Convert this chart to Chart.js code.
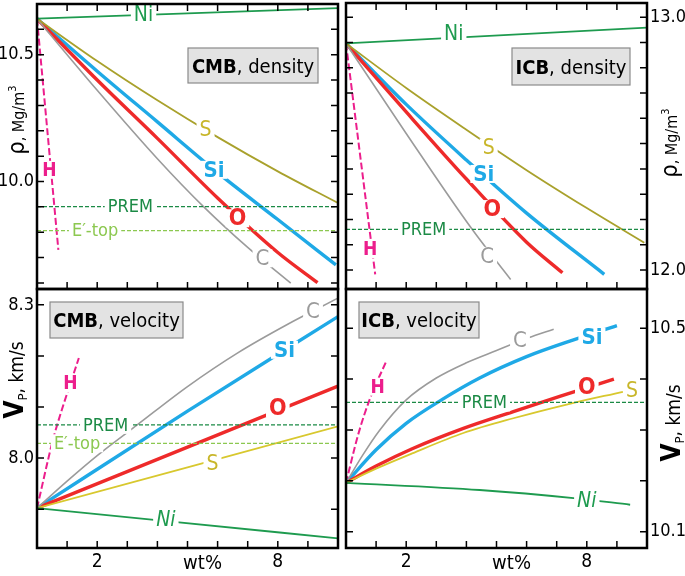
<!DOCTYPE html>
<html>
<head>
<meta charset="utf-8">
<script src="https://cdn.jsdelivr.net/npm/chart.js@4.4.0/dist/chart.umd.min.js"></script>
<style>
body { margin: 0; background: #fff; }
#wrap { position: relative; width: 685px; height: 576px; overflow: hidden; background: #fff; }
canvas { position: absolute; }
</style>
</head>
<body>
<div id="wrap">
<canvas id="tl" width="342" height="292" style="left:0;top:0"></canvas>
<canvas id="tr" width="343" height="292" style="left:342px;top:0"></canvas>
<canvas id="bl" width="342" height="290" style="left:0;top:286px"></canvas>
<canvas id="br" width="343" height="290" style="left:342px;top:286px"></canvas>
</div>
<script>
// x axis: wt% of light element, labels only at 2 and 8
var xLabelTicks = [2, 8];

// ---- CMB, density (Mg/m3)
var cmbRhoLabels = [10.0, 10.5];
var cmbRhoNiX = [0, 10],                        cmbRhoNiY = [10.642, 10.684];
var cmbRhoSX  = [0, 2, 4, 6, 8, 10],            cmbRhoSY  = [10.642, 10.475, 10.32, 10.175, 10.04, 9.915];
var cmbRhoSiX = [0, 2, 4, 6, 8, 9.93],          cmbRhoSiY = [10.642, 10.435, 10.235, 10.035, 9.85, 9.671];
var cmbRhoOX  = [0, 2, 4, 6, 8, 9.32],          cmbRhoOY  = [10.642, 10.40, 10.17, 9.935, 9.72, 9.601];
var cmbRhoCX  = [0, 2, 4, 5.54, 7, 8.43],       cmbRhoCY  = [10.642, 10.36, 10.09, 9.90, 9.74, 9.599];
var cmbRhoHX  = [0, 0.71],                      cmbRhoHY  = [10.642, 9.730];
var cmbRhoPrem = 9.901, cmbRhoEtop = 9.806;

// ---- ICB, density (Mg/m3)
var icbRhoLabels = [12.0, 13.0];
var icbRhoNiX = [0, 10],                        icbRhoNiY = [12.896, 12.959];
var icbRhoSX  = [0, 2, 4, 6, 8, 9.91],          icbRhoSY  = [12.896, 12.72, 12.555, 12.395, 12.245, 12.108];
var icbRhoSiX = [0, 2, 4, 6, 8.58],             icbRhoSiY = [12.896, 12.655, 12.435, 12.225, 11.983];
var icbRhoOX  = [0, 2, 4, 6, 7.19],             icbRhoOY  = [12.896, 12.625, 12.36, 12.11, 11.989];
var icbRhoCX  = [0, 2, 4.19, 5.47],             icbRhoCY  = [12.896, 12.54, 12.161, 11.963];
var icbRhoHX  = [0, 0.97],                      icbRhoHY  = [12.896, 11.983];
var icbRhoPrem = 12.161;

// ---- CMB, velocity Vp (km/s)
var cmbVpLabels = [8.0, 8.3];
var cmbVpNiX = [0, 4.22, 10],                   cmbVpNiY = [7.902, 7.877, 7.843];
var cmbVpSX  = [0, 10],                         cmbVpSY  = [7.902, 8.062];
var cmbVpOX  = [0, 10],                         cmbVpOY  = [7.902, 8.141];
var cmbVpSiX = [0, 5, 10],                      cmbVpSiY = [7.902, 8.092, 8.277];
var cmbVpCX  = [0, 1, 2, 3.33, 5, 6.67, 8.33, 10], cmbVpCY = [7.902, 7.955, 8.005, 8.065, 8.140, 8.206, 8.262, 8.313];
var cmbVpHX  = [0, 0.5, 0.67, 1.39],            cmbVpHY  = [7.902, 8.029, 8.065, 8.196];
var cmbVpPrem = 8.065, cmbVpEtop = 8.029;

// ---- ICB, velocity Vp (km/s)
var icbVpLabels = [10.1, 10.5];
var icbVpNiX = [0, 4.44, 7.56, 9.44],           icbVpNiY = [10.196, 10.182, 10.166, 10.153];
var icbVpSX  = [0, 1, 2.2, 3.9, 5.56, 7.33, 9.2], icbVpSY = [10.196, 10.224, 10.254, 10.294, 10.323, 10.35, 10.375];
var icbVpOX  = [0, 1, 2.2, 3.9, 5.56, 7.1, 8.9],  icbVpOY = [10.196, 10.229, 10.263, 10.303, 10.336, 10.366, 10.400];
var icbVpSiX = [0, 1, 2, 3.2, 4.44, 6, 7.56, 9], icbVpSiY = [10.196, 10.261, 10.313, 10.36, 10.402, 10.444, 10.477, 10.505];
var icbVpCX  = [0, 0.55, 1.1, 2, 3, 4, 5, 6.06, 6.9], icbVpCY = [10.196, 10.250, 10.298, 10.359, 10.402, 10.432, 10.456, 10.481, 10.498];
var icbVpHX  = [0, 0.4, 0.8, 1.33],             icbVpHY  = [10.196, 10.29, 10.362, 10.434];
var icbVpPrem = 10.354;

var FONT = '"DejaVu Sans Condensed", "DejaVu Sans", sans-serif';
var COL = {
	Ni: '#1e9b4f', S: '#a9a12c', S2: '#d8c82e', Slab: '#c8b62a', Si: '#1fa9e6', O: '#ee2a2a',
	C: '#9b9b9b', H: '#ec1e8c', PREM: '#1b8a45', Etop: '#8cc850'
};

// label text styles
var LS = {
	Ni:   { color: COL.Ni,   font: '21px ' + FONT },
	Nii:  { color: COL.Ni,   font: 'italic 21px ' + FONT },
	S:    { color: COL.Slab, font: '21px ' + FONT },
	Si:   { color: COL.Si,   font: 'bold 22px ' + FONT },
	O:    { color: COL.O,    font: 'bold 23px ' + FONT },
	C:    { color: COL.C,    font: '22px ' + FONT },
	H:    { color: COL.H,    font: 'bold 19px ' + FONT },
	PREM: { color: COL.PREM, font: '18px ' + FONT },
	Etop: { color: COL.Etop, font: '18px ' + FONT }
};

function xy(xs, ys) { return xs.map(function(x, i) { return { x: x, y: ys[i] }; }); }
function flat(v) { return [{ x: 0, y: v }, { x: 10, y: v }]; }
function ds(pts, color, width, dash) {
	return {
		data: pts, borderColor: color, borderWidth: width, borderDash: dash || [],
		pointRadius: 0, fill: false, cubicInterpolationMode: 'monotone'
	};
}

function overlay(p) {
	return {
		id: 'overlay',
		afterDatasetsDraw: function(chart) {
			var ctx = chart.ctx, xs = chart.scales.x, ys = chart.scales.y;
			p.labels.forEach(function(l) {
				var st = LS[l[3]];
				var px = xs.getPixelForValue(l[1]), py = ys.getPixelForValue(l[2]);
				ctx.save();
				ctx.font = st.font;
				var w = ctx.measureText(l[0]).width;
				ctx.fillStyle = '#fff';
				ctx.fillRect(px - w / 2 - 3, py - 9, w + 6, 18);
				ctx.fillStyle = st.color;
				ctx.textAlign = 'center';
				ctx.textBaseline = 'middle';
				ctx.fillText(l[0], px, py + 1);
				ctx.restore();
			});
		},
		afterDraw: function(chart) {
			var ctx = chart.ctx, a = chart.chartArea, xs = chart.scales.x, ys = chart.scales.y;
			ctx.save();
			// tick marks, pointing inward
			ctx.strokeStyle = '#000';
			ctx.lineWidth = 1.5;
			ctx.beginPath();
			xs.ticks.forEach(function(t) {
				var px = xs.getPixelForValue(t.value);
				ctx.moveTo(px, a.bottom); ctx.lineTo(px, a.bottom - 7);
				if (p.topTicks) { ctx.moveTo(px, a.top); ctx.lineTo(px, a.top + 7); }
			});
			ys.ticks.forEach(function(t) {
				var py = ys.getPixelForValue(t.value);
				ctx.moveTo(a.left, py); ctx.lineTo(a.left + 7, py);
				ctx.moveTo(a.right, py); ctx.lineTo(a.right - 7, py);
			});
			ctx.stroke();
			// frame
			ctx.lineWidth = 2.5;
			ctx.strokeRect(a.left, a.top, a.right - a.left, a.bottom - a.top);

			// panel title box
			var b = p.box;
			ctx.fillStyle = '#e3e3e3';
			ctx.fillRect(b.x, b.y, b.w, b.h);
			ctx.strokeStyle = '#8a8a8a';
			ctx.lineWidth = 1.2;
			ctx.strokeRect(b.x, b.y, b.w, b.h);
			ctx.font = 'bold 20px ' + FONT;
			var w1 = ctx.measureText(b.bold).width;
			ctx.font = '20px ' + FONT;
			var w2 = ctx.measureText(b.rest).width;
			var sx = b.x + (b.w - w1 - w2) / 2, by = b.y + b.h / 2 + 7;
			ctx.fillStyle = '#000';
			ctx.textBaseline = 'alphabetic';
			ctx.textAlign = 'left';
			ctx.font = 'bold 20px ' + FONT;
			ctx.fillText(b.bold, sx, by);
			ctx.font = '20px ' + FONT;
			ctx.fillText(b.rest, sx + w1, by);

			// axis title, rotated
			var t = p.title;
			var parts = t.kind === 'rho'
				? [['ρ', '23px ' + FONT, 0], [', Mg/m', '16px ' + FONT, 0], ['3', '11px ' + FONT, -8]]
				: [['V', 'bold 26px ' + FONT, 0], ['P', '13px ' + FONT, 4], [', km/s', '19px ' + FONT, 0]];
			ctx.translate(t.x, t.y);
			ctx.rotate(-Math.PI / 2);
			var tot = 0;
			parts.forEach(function(q) { ctx.font = q[1]; tot += ctx.measureText(q[0]).width; });
			var cx = -tot / 2;
			parts.forEach(function(q) {
				ctx.font = q[1];
				ctx.fillText(q[0], cx, 8 + q[2]);
				cx += ctx.measureText(q[0]).width;
			});
			ctx.setTransform(1, 0, 0, 1, 0, 0);

			// wt% under the bottom panels
			if (p.xLabels) {
				ctx.font = '20px ' + FONT;
				ctx.textAlign = 'center';
				ctx.textBaseline = 'top';
				ctx.fillText('wt%', xs.getPixelForValue(5.5), a.bottom + 6);
			}
			ctx.restore();
		}
	};
}

function makePanel(id, p) {
	new Chart(document.getElementById(id), {
		type: 'line',
		data: { datasets: p.datasets },
		options: {
			responsive: false,
			animation: false,
			events: [],
			layout: { padding: p.pad },
			plugins: { legend: { display: false }, tooltip: { enabled: false } },
			scales: {
				x: {
					type: 'linear', min: 0, max: 10, display: p.xLabels,
					grid: { display: false, drawTicks: false }, border: { display: false },
					ticks: {
						stepSize: 1, autoSkip: false, maxRotation: 0, padding: 3, color: '#000',
						font: { family: FONT, size: 19 },
						callback: function(v) { return xLabelTicks.indexOf(v) >= 0 ? String(v) : ''; }
					},
					afterFit: function(s) { s.height = p.xLabels ? 28 : 0; s.paddingLeft = 0; s.paddingRight = 0; }
				},
				y: {
					type: 'linear', position: p.side, min: p.yMin, max: p.yMax,
					grid: { display: false, drawTicks: false }, border: { display: false },
					ticks: {
						stepSize: 0.1, includeBounds: false, autoSkip: false, color: '#000',
						padding: 3,
						font: { family: FONT, size: 18 },
						callback: function(v) {
							return p.yLabels.some(function(l) { return Math.abs(l - v) < 1e-6; }) ? v.toFixed(1) : '';
						}
					},
					afterFit: function(s) { s.width = p.yWidth; s.paddingTop = 0; s.paddingBottom = 0; }
				}
			}
		},
		plugins: [overlay(p)]
	});
}

makePanel('tl', {
	side: 'left', yWidth: 37, yMin: 9.576, yMax: 10.70, yLabels: cmbRhoLabels, xLabels: false, topTicks: true,
	pad: { top: 4, right: 4, bottom: 3, left: 0 },
	datasets: [
		ds(flat(cmbRhoPrem), COL.PREM, 1.2, [4, 2]),
		ds(flat(cmbRhoEtop), COL.Etop, 1.2, [4, 2]),
		ds(xy(cmbRhoNiX, cmbRhoNiY), COL.Ni, 1.8),
		ds(xy(cmbRhoSX, cmbRhoSY), COL.S, 1.8),
		ds(xy(cmbRhoCX, cmbRhoCY), COL.C, 1.6),
		ds(xy(cmbRhoOX, cmbRhoOY), COL.O, 3.4),
		ds(xy(cmbRhoSiX, cmbRhoSiY), COL.Si, 3.4),
		ds(xy(cmbRhoHX, cmbRhoHY), COL.H, 2, [7, 3])
	],
	labels: [
		['Ni', 3.54, 10.658, 'Ni'], ['S', 5.6, 10.204, 'S'], ['Si', 5.88, 10.046, 'Si'],
		['O', 6.66, 9.855, 'O'], ['C', 7.49, 9.697, 'C'], ['H', 0.41, 10.046, 'H'],
		['PREM', 3.1, 9.901, 'PREM'], ['E\u2032-top', 1.93, 9.806, 'Etop']
	],
	box: { x: 188, y: 48, w: 130, h: 35, bold: 'CMB', rest: ', density' },
	title: { x: 16, y: 120, kind: 'rho' }
});

makePanel('tr', {
	side: 'right', yWidth: 38, yMin: 11.925, yMax: 13.056, yLabels: icbRhoLabels, xLabels: false, topTicks: true,
	pad: { top: 3, right: 0, bottom: 3, left: 4 },
	datasets: [
		ds(flat(icbRhoPrem), COL.PREM, 1.2, [4, 2]),
		ds(xy(icbRhoNiX, icbRhoNiY), COL.Ni, 1.8),
		ds(xy(icbRhoSX, icbRhoSY), COL.S, 1.8),
		ds(xy(icbRhoCX, icbRhoCY), COL.C, 1.6),
		ds(xy(icbRhoOX, icbRhoOY), COL.O, 3.4),
		ds(xy(icbRhoSiX, icbRhoSiY), COL.Si, 3.4),
		ds(xy(icbRhoHX, icbRhoHY), COL.H, 2, [7, 3])
	],
	labels: [
		['Ni', 3.58, 12.935, 'Ni'], ['S', 4.74, 12.485, 'S'], ['Si', 4.58, 12.38, 'Si'],
		['O', 4.86, 12.241, 'O'], ['C', 4.69, 12.056, 'C'], ['H', 0.8, 12.082, 'H'],
		['PREM', 2.58, 12.161, 'PREM']
	],
	box: { x: 170, y: 48, w: 118, h: 37, bold: 'ICB', rest: ', density' },
	title: { x: 327, y: 143, kind: 'rho' }
});

makePanel('bl', {
	side: 'left', yWidth: 37, yMin: 7.824, yMax: 8.331, yLabels: cmbVpLabels, xLabels: true, topTicks: false,
	pad: { top: 3, right: 4, bottom: 0, left: 0 },
	datasets: [
		ds(flat(cmbVpPrem), COL.PREM, 1.2, [4, 2]),
		ds(flat(cmbVpEtop), COL.Etop, 1.2, [4, 2]),
		ds(xy(cmbVpNiX, cmbVpNiY), COL.Ni, 1.8),
		ds(xy(cmbVpSX, cmbVpSY), COL.S2, 1.8),
		ds(xy(cmbVpCX, cmbVpCY), COL.C, 1.6),
		ds(xy(cmbVpOX, cmbVpOY), COL.O, 3.4),
		ds(xy(cmbVpSiX, cmbVpSiY), COL.Si, 3.4),
		ds(xy(cmbVpHX, cmbVpHY), COL.H, 2, [7, 3])
	],
	labels: [
		['C', 9.17, 8.287, 'C'], ['Si', 8.22, 8.212, 'Si'], ['O', 8.0, 8.098, 'O'],
		['S', 5.83, 7.990, 'S'], ['Ni', 4.28, 7.879, 'Nii'], ['H', 1.11, 8.147, 'H'],
		['PREM', 2.28, 8.065, 'PREM'], ['E\u2032-top', 1.33, 8.029, 'Etop']
	],
	box: { x: 50, y: 16, w: 133, h: 36, bold: 'CMB', rest: ', velocity' },
	title: { x: 15, y: 94, kind: 'vp' }
});

makePanel('br', {
	side: 'right', yWidth: 38, yMin: 10.068, yMax: 10.577, yLabels: icbVpLabels, xLabels: true, topTicks: false,
	pad: { top: 3, right: 0, bottom: 0, left: 4 },
	datasets: [
		ds(flat(icbVpPrem), COL.PREM, 1.2, [4, 2]),
		ds(xy(icbVpNiX, icbVpNiY), COL.Ni, 1.8),
		ds(xy(icbVpSX, icbVpSY), COL.S2, 1.8),
		ds(xy(icbVpCX, icbVpCY), COL.C, 1.6),
		ds(xy(icbVpOX, icbVpOY), COL.O, 3.4),
		ds(xy(icbVpSiX, icbVpSiY), COL.Si, 3.4),
		ds(xy(icbVpHX, icbVpHY), COL.H, 2, [7, 3])
	],
	labels: [
		['C', 5.78, 10.477, 'C'], ['Si', 8.17, 10.483, 'Si'], ['O', 8.0, 10.385, 'O'],
		['S', 9.5, 10.378, 'S'], ['Ni', 8.0, 10.162, 'Nii'], ['H', 1.05, 10.385, 'H'],
		['PREM', 4.6, 10.354, 'PREM']
	],
	box: { x: 17, y: 16, w: 120, h: 36, bold: 'ICB', rest: ', velocity' },
	title: { x: 330, y: 137, kind: 'vp' }
});
</script>
</body>
</html>
